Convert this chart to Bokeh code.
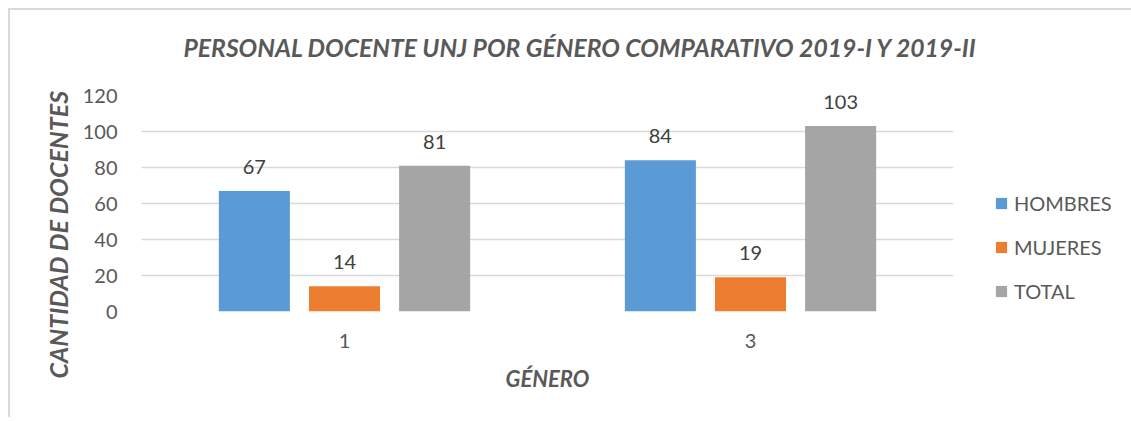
from bokeh.plotting import figure
from bokeh.models import ColumnDataSource, FactorRange, Range1d, LabelSet, Legend, LegendItem, Title
from bokeh.transform import dodge
from bokeh.core.properties import value
from bokeh.embed import file_html
from bokeh.resources import INLINE

groups = ["1", "3"]
hombres = [67, 84]
mujeres = [14, 19]
total = [81, 103]
series_names = ["HOMBRES", "MUJERES", "TOTAL"]
colors = ["#5B9BD5", "#ED7D31", "#A5A5A5"]
y_ticks = [0, 20, 40, 60, 80, 100, 120]
title_text = "PERSONAL DOCENTE UNJ POR GÉNERO COMPARATIVO 2019-I Y 2019-II"
x_label = "GÉNERO"
y_label = "CANTIDAD DE DOCENTES"

FONT = "Lato"
TXT = "#595959"

source = ColumnDataSource(dict(cat=groups, HOMBRES=hombres, MUJERES=mujeres, TOTAL=total,
                               l_h=[str(v) for v in hombres],
                               l_m=[str(v) for v in mujeres],
                               l_t=[str(v) for v in total]))

p = figure(x_range=FactorRange(factors=groups), y_range=Range1d(0, 120),
           frame_width=812, frame_height=216,
           min_border_left=131, min_border_right=176, min_border_top=85, min_border_bottom=106,
           output_backend="svg", toolbar_location=None)
p.title = None
p.styles = {"margin-left": "8px", "margin-top": "8px",
            "border-top": "2px solid #d9d9d9", "border-left": "2px solid #d9d9d9"}
p.outline_line_color = None
p.background_fill_color = "white"
p.border_fill_color = "white"

offsets = [-0.222, 0.0, 0.222]
label_cols = ["l_h", "l_m", "l_t"]
renderers = []
for name, col, off, lc in zip(series_names, colors, offsets, label_cols):
    r = p.vbar(x=dodge("cat", off, range=p.x_range), top=name, width=0.175, source=source,
               fill_color=col, line_color=None)
    renderers.append(r)
    ls = LabelSet(x=dodge("cat", off, range=p.x_range), y=name, text=lc, source=source,
                  text_align="center", text_baseline="alphabetic", y_offset=17,
                  text_font=value(FONT), text_font_size="20px", text_color="#404040")
    p.add_layout(ls)

# grid
p.xgrid.grid_line_color = None
p.ygrid.grid_line_color = "#d9d9d9"
p.ygrid.grid_line_width = 1.3
p.yaxis.ticker = y_ticks

for ax in (p.xaxis, p.yaxis):
    ax.axis_line_color = None
    ax.major_tick_line_color = None
    ax.minor_tick_line_color = None
    ax.major_label_text_font = FONT
    ax.major_label_text_font_size = "20px"
    ax.major_label_text_color = TXT
    ax.axis_label_text_font = FONT
    ax.axis_label_text_font_size = "22px"
    ax.axis_label_text_font_style = "bold italic"
    ax.axis_label_text_color = TXT

p.xaxis.axis_label = x_label
p.xaxis.major_label_standoff = 16
p.xaxis.axis_label_standoff = 14
p.yaxis.major_label_standoff = 18
p.x_range.range_padding = 0
p.x_range.group_padding = 0

ytitle = Title(text=y_label, align="left", offset=-67, standoff=14,
               text_font=FONT, text_font_size="25px", text_font_style="bold italic",
               text_color=TXT)
p.add_layout(ytitle, "left")

# spacer between frame and title (keeps the title off the frame)
spacer = Title(text=" ", standoff=8, text_font=FONT, text_font_size="20px", text_color="white")
p.add_layout(spacer, "above")
main_title = Title(text=title_text, align="left", offset=42, standoff=0,
                   text_font=FONT, text_font_size="24.7px", text_font_style="bold italic",
                   text_color=TXT)
p.add_layout(main_title, "above")

legend = Legend(items=[LegendItem(label=n, renderers=[r]) for n, r in zip(series_names, renderers)],
                location=(41, 8), orientation="vertical",
                glyph_width=14, glyph_height=14, label_standoff=6,
                label_text_font=FONT, label_text_font_size="20px", label_text_color=TXT,
                label_height=20, spacing=20, padding=5, margin=0,
                border_line_color=None, background_fill_alpha=0)
p.add_layout(legend, "right")

open("out.html", "w").write(file_html(p, INLINE))
